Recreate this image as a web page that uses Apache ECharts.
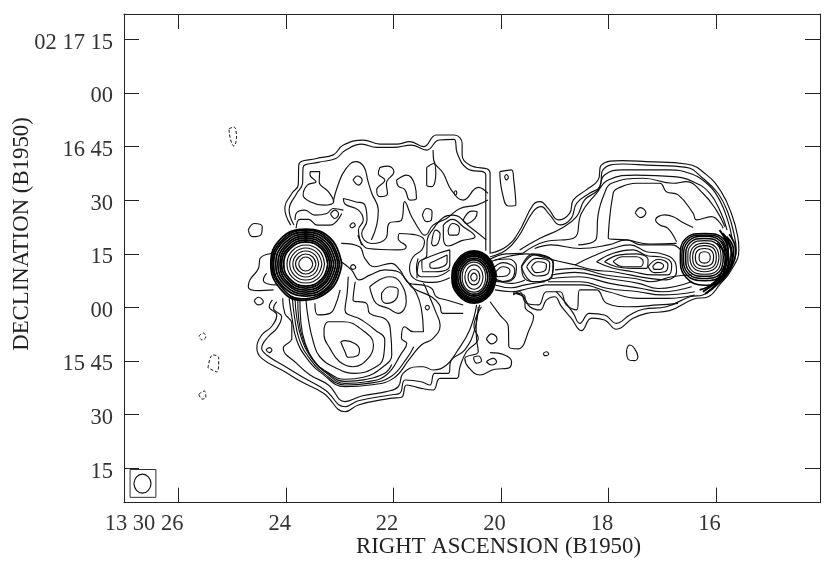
<!DOCTYPE html>
<html><head><meta charset="utf-8">
<script src="https://cdn.jsdelivr.net/npm/echarts@6/dist/echarts.min.js"></script>
<style>html,body{margin:0;padding:0;background:#fff}#c{width:830px;height:567px}</style>
</head><body><div id="c"></div>
<script>
// Right ascension in seconds of 13 30 xx, declination in arcsec past 02 15 00
const raTicks=[26,24,22,20,18,16];
const raLabels=['13 30 26','24','22','20','18','16'];
const decTicks=[135,120,105,90,75,60,45,30,15];
const decLabels=['02 17 15','00','16 45','30','15','00','15 45','30','15'];
const raRange=[14.06,27.013];
const decRange=[5.35,142.13];

// Left lobe, upper half
const L1=[[23.91,83.05],[24.02,87.7],[23.89,91.9],[23.77,94.3],[23.76,99.9],[23.43,101.7],[23.12,102.7],[22.93,105.45],[22.56,106.85],[22.25,105.7],[21.94,105.7],[21.69,106.4],[21.44,105],[21.2,108.25],[20.87,108.25],[20.72,105.9],[20.72,102.65],[20.58,99.85],[20.2,97.5],[20.2,75.1]];
const L2=[[23.85,83.05],[23.94,87.25],[23.8,91.9],[23.69,94.7],[23.68,99.2],[23.4,100.6],[23.07,101.7],[22.9,103.9],[22.59,105.7],[22.31,104.8],[22,104.8],[21.66,105.45],[21.38,104.05],[21.15,106.85],[20.87,107.05],[20.81,103.1],[20.63,98.9],[20.28,97.05],[20.28,75.9]];
const Ma=[[21.26,104.05],[21.25,101.25],[21.07,97.5],[20.92,92.85],[20.7,90.05],[20.42,93.6],[20.24,91.9]];
const Mb=[[20.24,90.05],[20.45,88.65],[20.76,87.7],[21.01,84.9],[21.26,83.05],[21.41,80.25],[21.47,80.7],[21.66,85.4],[21.79,89.6],[21.85,84.45],[22.08,83.5],[22.14,79.3],[22.41,77.9],[22.59,80.7],[22.49,84.45],[22.53,88.65],[22.71,89.6],[22.93,90.5],[22.9,88.95],[22.65,87.25],[22.56,84.45],[22.65,81.65],[22.59,77.45]];
const Mc=[[23.12,89.6],[23.03,94.25],[22.9,98.45],[22.7,100.8],[22.55,99.4],[22.47,95.2],[22.4,91.9],[22.28,87.25],[22.31,83.05],[22.41,78.85]];
const N1=[[23.81,82.15],[23.74,84.65],[23.58,84.65],[23.42,83.05],[23.18,83.05],[22.96,86.3]];
const N2=[[23.83,84.45],[23.8,86.5],[23.65,87.25],[23.46,85.85],[23.24,86.3],[23.12,87.7],[22.93,87.25]];
const P2=[[21.56,68.15],[21.53,72.5],[21.38,74.4],[21.37,78.85],[21.25,82.15],[21.07,85.2],[20.89,85.85],[20.58,82.6],[20.27,78.9]];
const K1=[[24.27,75.1],[24.48,73.7],[24.51,70.95],[24.67,67.7],[24.7,65.8],[24.51,64.7],[24.23,64.9]];
const K2=[[24.36,69.55],[24.42,67.7],[24.33,66.55],[24.17,66.3]];
// Bridge between the eastern source and the core
const Y1=[[22.97,77.95],[22.63,77],[22.53,73.75],[22.35,71.4],[22.04,72.35],[21.88,70.5],[21.7,66.75],[21.48,66.3],[21.29,65.35],[21.2,63],[21.01,62.1],[20.7,60.7]];
const Y2=[[22.66,80.27],[22.47,76.5],[21.91,76.1],[21.76,77],[21.91,79.3],[21.88,80.7],[21.57,80.27],[21.42,78.4],[21.47,76.1],[21.63,74.2],[21.7,70.95],[21.57,67.7],[21.26,67],[20.95,68.3]];
const Y4=[[21.54,73.75],[21.57,70.95],[21.48,68.6],[21.23,68.6],[20.95,70.5]];
const Y5=[[22.97,72.8],[22.78,70.5],[22.63,67.7],[22.44,69.05],[22.16,70.5],[21.91,70],[21.76,67.7],[21.63,65.35],[21.29,63],[21.14,60.7],[21.08,58.35],[20.7,58.35]];

// Left lobe, lower half
const G1=[[24.25,62.1],[24.31,60.2],[24.17,57.9],[24.27,54.6],[24.45,52.3],[24.54,48.55],[24.45,45.75],[24.02,42],[23.71,39.2],[23.3,36],[22.9,30.8],[22.65,32.7],[22.06,34.55],[21.85,34.85],[21.75,38.3],[21.48,37.35],[21.26,36.9],[21.13,40.15],[20.82,40.15],[20.76,43.4],[20.64,47.6],[20.42,51.35],[20.5,54.6],[20.36,60.2]];
const G2=[[24.17,61.6],[24.23,59.75],[24.08,57.4],[24.17,54.15],[24.33,51.8],[24.45,48.55],[24.36,46.7],[23.96,43],[23.65,40.15],[23.27,36.9],[22.9,32.2],[22.65,33.9],[22.06,35.5],[21.88,36],[21.78,39.7],[21.48,39.2],[21.32,38.3],[21.23,41.55],[20.98,41.55],[20.92,45.3],[20.67,48.1],[20.48,54.15],[20.42,60.2]];
const G3=[[24.06,62.55],[24.02,58.35],[23.89,55.55],[23.89,51.35],[24.05,48.55],[23.8,44.35],[23.55,41.1],[23.21,38.3],[22.9,33.65],[22.59,35.2],[22.13,36.45],[21.91,37.8],[21.82,41.55],[21.54,43.4],[21.44,43.4],[21.26,42.5],[21.01,43.9],[20.82,47.6],[20.58,53.7],[20.45,60.7]];
const V1=[[22.84,68.6],[22.86,63.95],[22.9,59.3],[22.59,56.5],[22.34,53.7],[22.16,50.9],[22.19,45.75],[22.37,43],[22.71,41.55],[23.06,43],[23.37,46.2],[23.49,50.4],[23.58,56.5],[23.63,62.55]];
const V2=[[22.99,64.9],[23.09,60.2],[23.18,58.35],[23.4,57.9],[23.46,61.15]];
const V3=[[22.71,67.2],[22.75,62.1],[22.5,61.15],[22.44,58.35],[22.13,56.5],[22.05,52.75],[22.03,46.7],[22.19,43.4],[22.56,40.45],[22.9,39.9],[23.24,42],[23.49,45.3],[23.65,50.4],[23.72,55.55],[23.74,62.55]];
const V4=[[23.83,62.55],[23.8,57.4],[23.71,51.35],[23.52,45.75],[23.24,41.55],[22.9,38.75],[22.5,39.2],[22.13,41.1],[21.85,47.15],[21.75,49.95],[21.85,51.35],[21.79,54.6],[21.63,53.2],[21.44,53.2],[21.48,59.75],[21.57,63.95],[21.7,66.75]];
const V5=[[23.94,62.55],[23.89,57.4],[23.8,50.9],[23.61,45.75],[23.33,41.55],[22.9,37.85],[22.44,38.3],[22,40.15],[21.69,45.75],[21.48,49.5],[21.26,51.35],[21.13,55.05],[21.2,58.35],[21.38,64.9],[21.44,66.75]];
const V6=[[23.88,62.55],[23.84,57.4],[23.75,51],[23.56,45.75],[23.28,41.4],[22.9,38.3],[22.47,38.75],[22.05,40.6],[21.75,45.75],[21.62,49]];
const V7=[[23.78,62.55],[23.76,56.5],[23.68,51],[23.5,45.5],[23.24,41.8],[22.9,39.3],[22.53,39.8],[22.16,41.6],[22.03,44]];
const W1=[[20.39,60.7],[20.46,54.6],[20.45,50.9],[20.42,47.6],[20.67,45.75],[20.61,43.4],[20.39,41.1],[20.11,42.7],[19.86,43],[19.8,44.8],[19.93,46.7],[20.2,47.35]];

// Right lobe and jet
const R1=[[20.2,75.15],[19.9,77],[19.68,80.75],[19.4,88.7],[19.27,89.6],[19.12,87.75],[18.93,84.5],[18.72,86.35],[18.65,90.1],[18.41,92.9],[18.19,95.65],[18.13,99.85],[17.73,101.1],[17.29,100.8],[16.55,100.15],[16.17,97.1],[15.9,92.4],[15.71,86.35],[15.59,79.8],[15.57,76.1],[15.71,70.5],[15.93,66.3],[16.14,63],[16.42,62.3],[16.86,59.1],[17.29,58.35],[17.54,56.95],[17.85,53.9],[18.07,56.5],[18.31,57],[18.5,53.5],[18.69,57],[18.87,60.2],[19,63],[19.15,62.1],[19.27,59.3],[19.46,60.2],[19.58,63],[19.77,64]];
const R2=[[20.2,74.2],[19.9,76.1],[19.68,79.65],[19.4,86.8],[19.25,88.2],[19.09,85.9],[18.9,83.1],[18.69,84.95],[18.59,89.15],[18.35,91.95],[18.16,93.8],[18.1,98.5],[17.73,100.15],[17.29,99.85],[16.55,99.2],[16.24,96.15],[15.96,91.95],[15.77,86.35],[15.65,79.8],[15.62,76.1],[15.74,71.4],[15.99,66.75],[16.24,63.5],[16.48,63],[16.92,60.2],[17.35,59.5],[17.6,57.9],[17.85,55.55],[18.07,57.9],[18.35,58.35],[18.53,55.55],[18.65,58.35],[18.81,61.6],[18.97,64.4]];
const R3=[[19.65,76.1],[19.27,79.35],[18.87,82.15],[18.59,85.4],[18.44,90.1],[18.19,92.9],[18.07,97.05],[17.73,98.5],[16.86,98.5],[16.49,97.55],[16.17,94.75],[15.93,90.1],[15.77,84],[15.69,78.9]];
const R4=[[19.59,75.15],[19.18,78.4],[18.65,79.35],[18.5,86.35],[18.22,91.95],[18,95.65],[17.48,97.05],[16.79,96.6],[16.42,95.2],[16.11,91.95],[15.9,86.35],[15.79,81.65]];
const R5=[[18.56,77.5],[18.22,79.35],[18.19,85.9],[18.07,91.95],[17.94,94.75],[17.35,96.15],[16.79,94.75],[16.55,95.2],[16.24,91.95],[15.99,87.25],[15.83,82.6]];
const R6=[[16.73,77.95],[17.23,77.75],[17.66,78.9],[18,79.35],[17.91,91.95],[17.82,93.35],[17.48,94.75],[17.04,94.75],[16.92,92.4],[16.7,91.5],[16.42,86.35],[16.36,84.5],[16.08,85.4],[15.86,82.15]];
const R7=[[16.42,82.4],[16.64,84],[16.79,85.4],[16.95,85.9],[17.12,84.5],[17.04,83.1],[16.89,82.15],[16.73,78.4]];
const H1=[[15.93,81.65],[15.77,76.1],[15.87,70.5],[16.05,66.75],[16.3,64.9]];
const H2=[[15.87,80.75],[15.71,76.1],[15.8,70.5],[15.99,67.2],[16.24,64.4]];
const H3=[[15.8,79.8],[15.67,76.1],[15.75,71],[15.94,67.2],[16.17,64]];
const H4=[[15.75,80.5],[15.63,76.1],[15.72,71],[15.96,66.6],[16.2,63.8]];
const H5=[[15.84,80],[15.69,74],[15.78,69.5],[16.02,66.2]];
const H6=[[15.98,78],[15.82,74],[15.86,69.5],[16.08,66.5]];
const H7=[[15.9,78.5],[15.76,73],[15.83,69],[16.05,65.8]];
const T2=[[20.2,72.8],[19.83,74.4],[19.52,75],[19.03,73.3],[18.62,71.9]];
const T3=[[20.2,73.5],[19.9,75],[19.59,75.15]];
const jetTop=[[19.37,76.5],[19.06,77.5],[18.53,76.5],[18,77.5],[17.66,78.9],[17.38,77.5],[16.82,77.5],[16.65,76.07]];
const b1=[[18.99,70.5],[18.62,70.95],[18.06,69.07],[17.5,68.1],[17.2,67.2],[16.82,68.6],[16.45,69.07]];
const b2=[[19.05,69.07],[18.62,69.8],[18,68.1],[17.44,66.75],[17.07,65.3],[16.45,67.2]];
const b3=[[19.05,68.1],[18.56,68.6],[17.97,66.75],[17.38,65.3],[17,64.4],[16.45,65.8]];
const b4=[[19.12,67.2],[18.53,67.2],[18,65.3],[17.44,64.4],[17,63.5],[16.39,64.4]];
const b5=[[19.18,66.3],[18.87,66.3],[18.5,66.3],[18,64.4],[17.44,62.55],[16.89,62.55],[16.39,63.5]];
const b6=[[19.77,63.47],[19.65,64.4],[19.52,61.15],[19.3,60.7],[19.15,64.4],[18.9,64.4],[18.78,60.7],[18.59,59.3],[18.53,64.9],[18.22,64.9],[18.03,61.15],[17.63,60.2],[17.07,60.7],[16.7,61.15]];
const jb1=[[20.11,67.7],[19.8,66.75],[19.55,67.7]];
const jb2=[[20.11,66.3],[19.8,65.5],[19.55,66.3],[19.18,67.2]];
const jb3=[[20.11,64.9],[19.8,64.4],[19.49,65.3],[19.18,66.3]];
const jk1=[[20.11,73.27],[19.86,73.55],[19.71,71.4],[19.74,68.6],[19.92,67.2],[20.11,68.1]];
const S7=[[20.2,61.6],[20.02,57.9],[19.86,54.6],[19.85,49],[19.68,48.4],[19.46,54.15],[19.39,57.4],[19.55,60.2],[19.55,63],[19.77,64]];

// Closed contours of the lobes
const C1=[[23.55,98],[23.37,98],[23.38,95.2],[23.21,92.4],[23.11,89.6],[23.3,88.65],[23.55,89.6],[23.68,91.45],[23.6,94.25],[23.44,95.2],[23.55,97.05]];
const C2=[[22.75,95.65],[22.67,96.8],[22.58,95.65],[22.65,94.25]];
const C3=[[22.25,99.2],[22.1,99.55],[21.99,98],[22.13,94.7],[22.11,91.9],[22.25,91],[22.31,92.85],[22.16,95.65],[22.28,97.5]];
const C4=[[21.94,95.65],[21.75,97.05],[21.6,94.25],[21.57,90.5],[21.69,90.05],[21.79,93.05],[21.91,93.95]];
const C5=[[21.38,99.2],[21.25,100.3],[21.21,97.5],[21.29,93.8],[21.38,94.25]];
const C6=[[20.87,92.2],[20.84,92.65],[20.82,91.9],[20.85,91.45]];
const C7=[[21.46,85.85],[21.38,87.7],[21.28,86.8],[21.29,84.65],[21.38,84]];
const C8=[[20.7,84.45],[20.54,86.95],[20.44,86.8],[20.48,84.95],[20.64,83.5]];
const C9=[[20.98,81.65],[20.9,83.5],[20.77,82.15],[20.82,80.25],[20.95,80.25]];
const C10=[[21.29,77.9],[21.21,81.65],[21.13,80.55],[21.17,77.9],[21.25,77.25]];
const C11=[[23.17,86.15],[23.09,87.25],[23.02,86.15],[23.09,84.9]];
const C12=[[22.81,82.9],[22.75,83.7],[22.71,83],[22.78,82.3]];
const C13=[[24.7,81.65],[24.59,83.5],[24.44,82.6],[24.47,80.25],[24.62,79.8]];
const C14=[[22.8,71.4],[22.75,72],[22.7,71.2],[22.76,70.65]];
const Q1=[[21.07,83.05],[20.9,84.65],[20.7,82.6],[20.48,79.8],[20.73,78.7],[20.98,77.2],[21.07,79.8]];
const Y3=[[21.47,73.3],[21.17,75.1],[20.95,76.1],[20.95,71.9],[21.23,70],[21.45,70]];
const Y3i=[[21.32,72.35],[21,74.7],[21,72.8],[21.23,70.95],[21.32,71.4]];
const E1=[[22.44,65.8],[22.07,68.6],[21.88,67.2],[21.76,61.6],[21.91,58.35],[22.1,59.75],[22.32,61.15],[22.41,63.95]];
const E2=[[22.22,63.95],[22.07,65.8],[21.91,64.9],[21.94,62.55],[22.13,61.15],[22.22,62.55]];
const E3=[[20.27,51.2],[20.17,52.6],[20.07,51.2],[20.17,49.8]];
const E4=[[20.51,46.05],[20.42,46.4],[20.36,45.1],[20.45,44.4]];
const E5=[[20.27,44.8],[20.14,45.75],[20.08,44.8],[20.17,43.9]];
const E6=[[21.41,60],[21.37,60.6],[21.33,60],[21.37,59.3]];
const E7=[[24.37,48.1],[24.31,48.75],[24.26,48.1],[24.31,47.35]];
const E8=[[24.59,61.9],[24.51,62.85],[24.42,61.6],[24.51,60.7]];
const LA=[[22.98,50.4],[22.9,50.7],[22.63,48.1],[22.68,46.4],[22.84,46.05],[22.9,47.6]];
const LB=[[23.29,54.15],[23.21,56],[22.93,56],[22.62,54.15],[22.37,49.5],[22.47,45.75],[22.75,43.4],[23,44.8],[23.18,48.55],[23.29,52.3]];
const F1=[[17.5,86.5],[17.4,87.95],[17.3,86.5],[17.4,85.15]];
const F2=[[19.21,47.15],[19.15,47.6],[19.11,47],[19.18,46.5]];
const F3=[[17.66,48.1],[17.6,49.5],[17.53,48.85],[17.45,46.2],[17.51,45.1],[17.63,45.5]];
const F4=[[20.02,98],[19.8,98.5],[19.76,95.7],[19.72,88.7],[19.86,88.4],[19.97,91.95]];
const F5=[[19.93,96.6],[19.9,97.2],[19.86,96.4],[19.9,95.7]];

// Jet knots
const J0=[[18.62,71.9],[18.28,74.4],[17.91,76.55],[17.6,77.5],[17.29,75.6],[17.04,75.15],[16.76,72.8],[16.73,70],[16.92,67.7],[17.23,68.15],[17.6,69.1],[17.91,70],[18.28,70.5]];
const J1=[[18.22,72.8],[17.91,75.15],[17.54,76.1],[17.26,74.4],[17.04,74.2],[16.82,71.9],[16.89,69.1],[17.17,69.1],[17.54,70],[17.91,70.95]];
const J2=[[18.07,72.8],[17.79,74.7],[17.48,75],[17.26,73.3],[17.29,70.95],[17.54,70.95],[17.85,71.4]];
const J3=[[17.91,72.8],[17.73,74.2],[17.48,74.2],[17.35,72.8],[17.41,71.4],[17.73,71.4]];
const J4=[[17.26,71.4],[17.07,73.5],[16.89,71.9],[16.95,70],[17.14,69.75]];
const J5=[[17.17,71.6],[17.07,72.6],[16.97,71.7],[17.04,70.65],[17.14,70.65]];
const O1=[[19.43,71.4],[19.31,72.8],[19.15,71.9],[19.18,70.3],[19.34,69.75]];
const O2=[[19.52,71.4],[19.34,73.75],[19.09,72.35],[19.12,69.55],[19.34,68.8]];
const O3=[[19.62,71.4],[19.4,75],[19.03,72.35],[19.06,68.15],[19.4,67.2]];
const O6=[[19.61,71.4],[19.37,74.7],[19.02,72.35],[19.06,68.6],[19.37,67.2],[19.58,68.6]];
const O4=[[20.09,70],[19.96,71.4],[19.83,70.3],[19.9,68.8],[20.05,68.6]];
const O5=[[20.17,70.5],[19.96,72.55],[19.74,70.5],[19.83,67.7],[20.08,67.2]];

// Eastern bright source
const A1=[[23.5,72.15],[23.54,73.52],[23.63,74.11],[23.72,73.52],[23.76,72.15],[23.72,70.78],[23.63,70.19],[23.54,70.78]];
const A2=[[23.44,72.15],[23.5,74.11],[23.63,74.95],[23.76,74.11],[23.82,72.15],[23.76,70.19],[23.63,69.35],[23.5,70.19]];
const A3=[[23.39,72.15],[23.46,74.7],[23.63,75.79],[23.8,74.7],[23.87,72.15],[23.8,69.6],[23.63,68.51],[23.46,69.6]];
const A4=[[23.33,72.15],[23.42,75.29],[23.63,76.63],[23.84,75.29],[23.93,72.15],[23.84,69],[23.63,67.67],[23.42,69]];
const A5=[[23.28,72.15],[23.38,75.87],[23.63,77.47],[23.88,75.87],[23.98,72.15],[23.88,68.43],[23.63,66.83],[23.38,68.43]];
const A6=[[23.22,72.15],[23.34,76.46],[23.63,78.31],[23.92,76.46],[24.04,72.15],[23.92,67.84],[23.63,65.99],[23.34,67.84]];
const A7=[[23.18,72.15],[23.32,76.85],[23.63,78.87],[23.94,76.85],[24.08,72.15],[23.94,67.45],[23.63,65.43],[23.32,67.45]];
const A8=[[23.15,72.15],[23.29,77.25],[23.63,79.43],[23.97,77.25],[24.11,72.15],[23.97,67.05],[23.63,64.87],[23.29,67.05]];
const A9=[[23.11,72.15],[23.27,77.65],[23.63,79.99],[23.99,77.65],[24.15,72.15],[23.99,66.65],[23.63,64.31],[23.27,66.65]];
const A10=[[23.07,72.15],[23.24,78.05],[23.63,80.55],[24.02,78.05],[24.19,72.15],[24.02,66.25],[23.63,63.75],[23.24,66.25]];
const A11=[[23.03,72.15],[23.21,78.45],[23.63,81.11],[24.05,78.45],[24.23,72.15],[24.05,65.85],[23.63,63.19],[23.21,65.85]];
const A12=[[23,72.15],[23.19,78.8],[23.63,81.67],[24.07,78.8],[24.26,72.15],[24.07,65.5],[23.72,62.4],[23.19,65.5]];
const A13=[[22.96,72.15],[23.16,79.15],[23.63,81.9],[24.1,79.15],[24.28,72.15],[24.1,65.15],[23.72,62],[23.16,65.15]];

// Central core
const B1=[[20.44,68.5],[20.46,69.27],[20.5,69.6],[20.54,69.27],[20.56,68.5],[20.54,67.73],[20.5,67.4],[20.46,67.73]];
const B2=[[20.39,68.5],[20.42,70.04],[20.5,70.7],[20.58,70.04],[20.61,68.5],[20.58,66.96],[20.5,66.3],[20.42,66.96]];
const B3=[[20.33,68.5],[20.38,70.9],[20.5,71.9],[20.62,70.9],[20.67,68.5],[20.62,66.1],[20.5,65.1],[20.38,66.1]];
const B4=[[20.28,68.5],[20.34,71.5],[20.5,72.7],[20.66,71.5],[20.72,68.5],[20.66,65.5],[20.5,64.3],[20.34,65.5]];
const B5=[[20.24,68.5],[20.32,71.9],[20.5,73.3],[20.68,71.9],[20.76,68.5],[20.68,65.1],[20.5,63.7],[20.32,65.1]];
const B6=[[20.2,68.5],[20.29,72.2],[20.5,73.8],[20.71,72.2],[20.8,68.5],[20.71,64.8],[20.5,63.2],[20.29,64.8]];
const B7=[[20.17,68.5],[20.27,72.6],[20.5,74.4],[20.73,72.6],[20.83,68.5],[20.73,64.4],[20.5,62.6],[20.27,64.4]];
const B8=[[20.15,68.5],[20.255,72.9],[20.5,74.8],[20.745,72.9],[20.85,68.5],[20.745,64.1],[20.5,62.2],[20.255,64.1]];
const B9=[[20.13,68.5],[20.24,73.2],[20.5,75.2],[20.76,73.2],[20.87,68.5],[20.76,63.8],[20.5,61.8],[20.24,63.8]];
const B10=[[20.11,68.5],[20.23,73.4],[20.5,75.5],[20.77,73.4],[20.89,68.5],[20.77,63.6],[20.5,61.5],[20.23,63.6]];
const B11=[[20.09,68.5],[20.21,73.6],[20.5,75.8],[20.79,73.6],[20.91,68.5],[20.79,63.4],[20.5,61.2],[20.21,63.4]];

// Western hot spot
const D1=[[16.1,74],[16.13,75.2],[16.21,75.6],[16.29,75.2],[16.31,74],[16.29,72.8],[16.21,72.4],[16.13,72.8]];
const D2=[[16.04,74],[16.08,75.9],[16.21,76.5],[16.34,75.9],[16.38,74],[16.34,72.1],[16.21,71.5],[16.08,72.1]];
const D3=[[15.99,74],[16.04,76.5],[16.21,77.3],[16.38,76.5],[16.43,74],[16.38,71.5],[16.21,70.7],[16.04,71.5]];
const D4=[[15.94,74],[16.01,77],[16.21,78],[16.41,77],[16.48,74],[16.41,71],[16.21,70],[16.01,71]];
const D5=[[15.9,74],[15.97,77.6],[16.21,78.7],[16.45,77.6],[16.52,74],[16.45,70.4],[16.21,69.3],[15.97,70.4]];
const D6=[[15.86,74],[15.94,78.1],[16.21,79.3],[16.48,78.1],[16.56,74],[16.48,69.9],[16.21,68.7],[15.94,69.9]];
const D7=[[15.82,74],[15.91,78.5],[16.21,79.9],[16.51,78.5],[16.6,74],[16.51,69.5],[16.21,68.1],[15.91,69.5]];
const D8=[[15.79,74],[15.88,78.9],[16.21,80.3],[16.54,78.9],[16.63,74],[16.54,69.1],[16.21,67.5],[15.88,69.1]];
const D9=[[15.76,74],[15.86,79.3],[16.21,80.7],[16.56,79.3],[16.66,74],[16.56,68.5],[16.21,66.2],[15.86,68]];

// Negative (dashed) contours
const Neg1=[[25.06,110],[24.97,110.5],[24.92,107.5],[24.97,105.2],[25.03,107]];
const Neg2=[[25.62,52],[25.54,52.85],[25.49,51.75],[25.56,50.9]];
const Neg3=[[25.45,43.05],[25.36,46.7],[25.25,45.85],[25.28,41.95]];
const Neg4=[[25.62,35.75],[25.52,36.6],[25.49,34.9],[25.56,34.35]];

// Restoring beam and its box
const beamBox=[[26.9,14.64],[26.42,14.64],[26.42,6.85],[26.9,6.85]];
const beam=[[26.83,10.7],[26.78,12.6],[26.67,13.36],[26.56,12.6],[26.51,10.7],[26.56,8.8],[26.67,8.04],[26.78,8.8]];

const openLines=[L1,L2,Ma,Mb,Mc,N1,N2,P2,K1,K2,Y1,Y2,Y4,Y5,G1,G2,G3,V1,V2,V3,V4,V5,V6,V7,W1,R1,R2,R3,R4,R5,R6,R7,T2,T3,jetTop,b1,b2,b3,b4,b5,b6,jb1,jb2,jb3,jk1,S7];
const loops=[C1,C2,C3,C4,C5,C6,C7,C8,C9,C10,C11,C12,C13,C14,Q1,Y3,Y3i,E1,E2,E3,E4,E5,E6,E7,E8,LA,LB,F1,F2,F3,F4,F5,J0,J1,J2,J3,J4,J5,O1,O2,O3,O4,O5,O6,A1,A2,A3,A4,A5,B1,B2,B3,B4,D1,D2,D3,D4,D5,beam];
const denseLoops=[A6,A7,A8,A9,A10,A11,A12,A13,B5,B6,B7,B8,B9,B10,B11];
const midLoops=[D6,D7,D8,D9];
const denseArcs=[H1,H2,H3,H4,H5,H6,H7];
const dashed=[Neg1,Neg2,Neg3,Neg4];

const INK='#111';
const close=a=>a.concat([a[0]]);
const line=(d,extra)=>Object.assign({type:'line',data:d,showSymbol:false,symbol:'none',smooth:0.45,silent:true,animation:false,
  lineStyle:{color:INK,width:1.15}},extra||{});
const heavy={lineStyle:{color:'#000',width:1.8}};
const series=[
  ...openLines.map(d=>line(d)),
  ...loops.map(d=>line(close(d))),
  ...midLoops.map(d=>line(close(d),{lineStyle:{color:'#000',width:1.5}})),
  ...denseLoops.map(d=>line(close(d),heavy)),
  ...denseArcs.map(d=>line(d,heavy)),
  ...dashed.map(d=>line(close(d),{lineStyle:{color:INK,width:1,type:[3,2]}})),
  line(close(beamBox),{smooth:false,lineStyle:{color:'#333',width:1}})
];
const fontFamily='"Liberation Serif"';
const base={axisLine:{show:true,onZero:false,lineStyle:{color:'#222',width:1}},splitLine:{show:false},minorTick:{show:false}};
const tick=v=>({show:true,inside:true,length:15,lineStyle:{color:'#222',width:1},customValues:v});
const xAxis=(pos,labels)=>Object.assign({},base,{type:'value',inverse:true,min:raRange[0],max:raRange[1],position:pos,
  axisTick:tick(raTicks),
  axisLabel:labels?{show:true,customValues:raTicks,align:'right',margin:10,padding:[0,-5,0,0],color:'#333',fontFamily,fontSize:22.5,
    formatter:v=>raLabels[raTicks.indexOf(v)]}:{show:false}});
const yAxis=(pos,labels)=>Object.assign({},base,{type:'value',min:decRange[0],max:decRange[1],position:pos,
  axisTick:tick(decTicks),
  axisLabel:labels?{show:true,customValues:decTicks,margin:11,verticalAlign:'top',padding:[-8,0,0,0],color:'#333',fontFamily,fontSize:22.5,
    formatter:v=>decLabels[decTicks.indexOf(v)]}:{show:false}});
const chart=echarts.init(document.getElementById('c'),null,{renderer:'canvas'});
chart.setOption({
  animation:false,backgroundColor:'#fff',
  grid:{left:124,top:14,width:696,height:488.7,containLabel:false},
  xAxis:[xAxis('bottom',true),xAxis('top',false)],
  yAxis:[yAxis('left',true),yAxis('right',false)],
  series,
  graphic:[
    {type:'text',x:498.5,y:547,style:{text:'RIGHT ASCENSION (B1950)',fontFamily,fontSize:22.8,fill:'#222',textAlign:'center',textVerticalAlign:'middle'}},
    {type:'text',x:22,y:234,rotation:Math.PI/2,style:{text:'DECLINATION (B1950)',fontFamily,fontSize:22.8,fill:'#222',textAlign:'center',textVerticalAlign:'middle'}}
  ]
});
</script></body></html>
